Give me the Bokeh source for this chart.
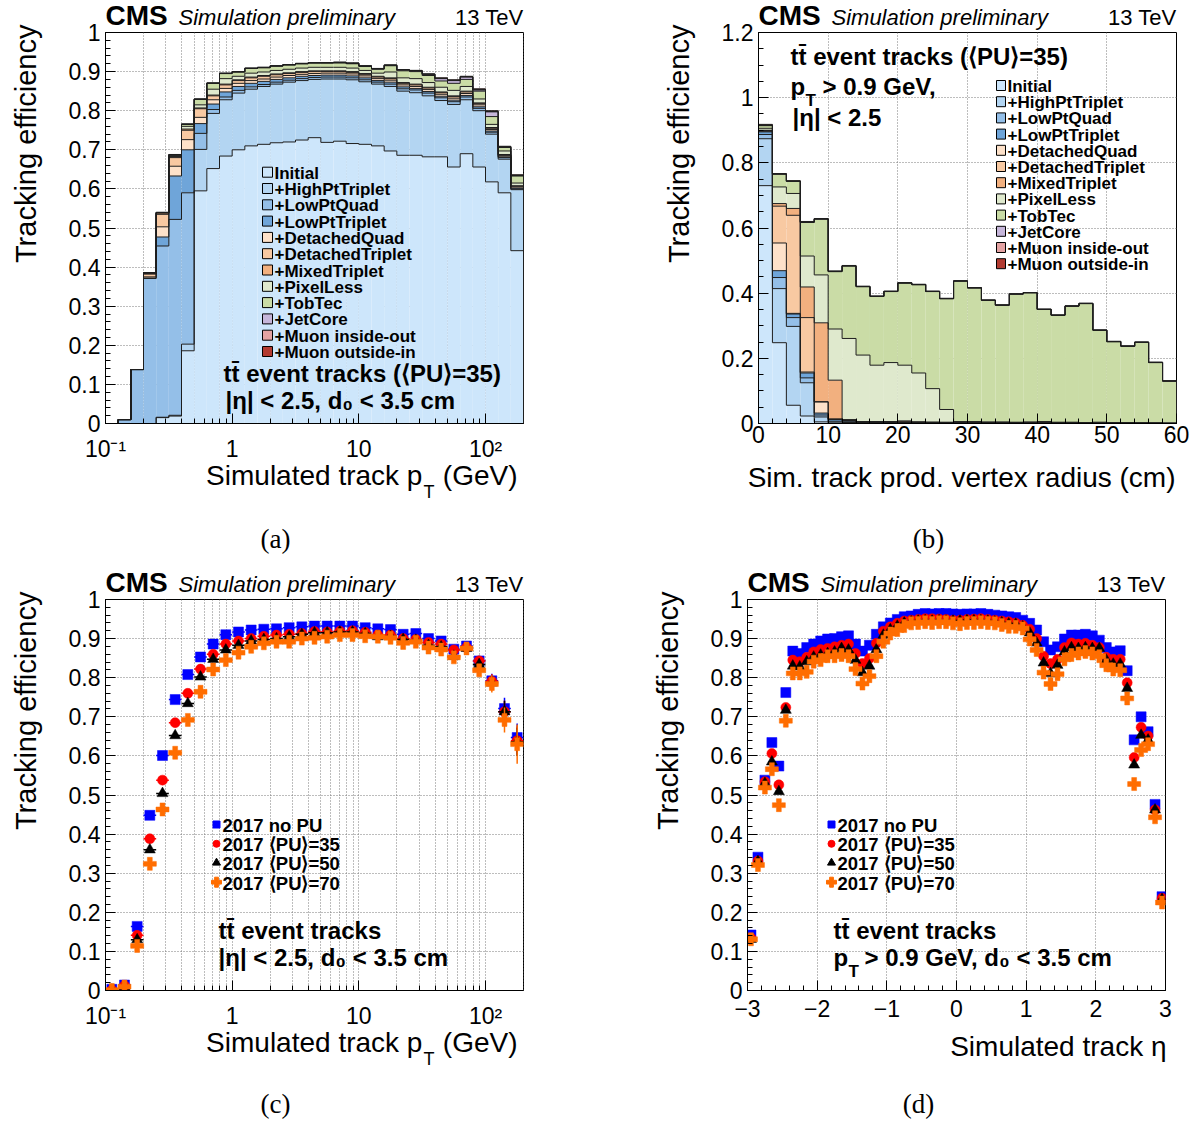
import math
import numpy as np
from bokeh.plotting import figure
from bokeh.models import Range1d, Label, FixedTicker, CustomJSTickFormatter
from bokeh.layouts import column, row
from bokeh.embed import file_html
from bokeh.resources import INLINE
from bokeh.core.properties import value

FONT = "Liberation Sans"
SERIF = "Liberation Serif"

# ------------------------------------------------------------------ data
iteration_labels = ["Initial", "+HighPtTriplet", "+LowPtQuad", "+LowPtTriplet",
                    "+DetachedQuad", "+DetachedTriplet", "+MixedTriplet", "+PixelLess",
                    "+TobTec", "+JetCore", "+Muon inside-out", "+Muon outside-in"]
iteration_colors = ["#cde6fb", "#b3d5f2", "#94bfe8", "#6fa5d9",
                    "#fde1c9", "#f8c9a2", "#f2b07f", "#dfe9cd",
                    "#cadca6", "#c6b6da", "#e4a3a3", "#b23b31"]

# (a) cumulative efficiency after each iteration, 33 log-spaced pT bins (0.1 - 200 GeV)
a_initial = [0.000, 0.000, 0.000, 0.000, 0.015, 0.019, 0.186, 0.595, 0.652, 0.684, 0.700, 0.710, 0.714, 0.718, 0.720, 0.725, 0.731, 0.719, 0.722, 0.716, 0.714, 0.710, 0.697, 0.686, 0.686, 0.682, 0.682, 0.656, 0.690, 0.656, 0.618, 0.590, 0.442]
a_highpt = [0.000, 0.000, 0.000, 0.000, 0.016, 0.021, 0.203, 0.701, 0.793, 0.828, 0.845, 0.855, 0.862, 0.868, 0.873, 0.877, 0.880, 0.881, 0.881, 0.879, 0.874, 0.868, 0.862, 0.850, 0.846, 0.838, 0.826, 0.816, 0.828, 0.800, 0.740, 0.676, 0.598]
a_lowptquad = [0.000, 0.010, 0.138, 0.371, 0.454, 0.522, 0.590, 0.742, 0.803, 0.835, 0.852, 0.861, 0.867, 0.873, 0.878, 0.882, 0.885, 0.886, 0.886, 0.884, 0.879, 0.873, 0.868, 0.856, 0.853, 0.845, 0.833, 0.823, 0.835, 0.806, 0.745, 0.680, 0.600]
a_lowpttriplet = [0.000, 0.010, 0.138, 0.372, 0.477, 0.633, 0.700, 0.767, 0.817, 0.848, 0.862, 0.870, 0.875, 0.880, 0.884, 0.888, 0.890, 0.891, 0.891, 0.889, 0.884, 0.877, 0.873, 0.861, 0.857, 0.849, 0.837, 0.827, 0.839, 0.810, 0.748, 0.682, 0.602]
a_detachedquad = [0.000, 0.010, 0.138, 0.375, 0.503, 0.658, 0.726, 0.783, 0.828, 0.857, 0.870, 0.877, 0.881, 0.886, 0.890, 0.893, 0.895, 0.896, 0.896, 0.894, 0.889, 0.882, 0.878, 0.866, 0.862, 0.854, 0.842, 0.832, 0.844, 0.815, 0.752, 0.685, 0.605]
a_detachedtriplet = [0.000, 0.010, 0.138, 0.382, 0.535, 0.680, 0.750, 0.805, 0.838, 0.866, 0.877, 0.884, 0.888, 0.892, 0.895, 0.898, 0.900, 0.900, 0.900, 0.898, 0.893, 0.886, 0.882, 0.870, 0.866, 0.858, 0.846, 0.836, 0.848, 0.818, 0.755, 0.687, 0.607]
a_mixedtriplet = [0.000, 0.010, 0.138, 0.385, 0.539, 0.683, 0.753, 0.807, 0.840, 0.868, 0.879, 0.886, 0.890, 0.894, 0.897, 0.900, 0.902, 0.902, 0.902, 0.900, 0.895, 0.888, 0.884, 0.872, 0.868, 0.860, 0.848, 0.838, 0.850, 0.820, 0.757, 0.688, 0.608]
a_pixelless = [0.000, 0.010, 0.138, 0.385, 0.539, 0.685, 0.760, 0.815, 0.855, 0.882, 0.888, 0.896, 0.899, 0.903, 0.906, 0.909, 0.911, 0.911, 0.911, 0.909, 0.903, 0.896, 0.899, 0.884, 0.882, 0.872, 0.860, 0.852, 0.862, 0.830, 0.765, 0.697, 0.615]
a_tobtec = [0.000, 0.010, 0.138, 0.385, 0.539, 0.687, 0.765, 0.829, 0.870, 0.895, 0.899, 0.908, 0.910, 0.914, 0.917, 0.920, 0.922, 0.922, 0.922, 0.920, 0.913, 0.906, 0.915, 0.902, 0.900, 0.890, 0.876, 0.870, 0.880, 0.850, 0.785, 0.706, 0.633]
a_jetcore = [0.000, 0.010, 0.138, 0.385, 0.539, 0.687, 0.765, 0.829, 0.870, 0.895, 0.899, 0.908, 0.910, 0.914, 0.917, 0.920, 0.922, 0.922, 0.923, 0.921, 0.914, 0.907, 0.916, 0.904, 0.902, 0.893, 0.882, 0.877, 0.886, 0.853, 0.797, 0.707, 0.634]
a_muon_io = [0.000, 0.010, 0.138, 0.386, 0.540, 0.688, 0.766, 0.830, 0.871, 0.896, 0.900, 0.909, 0.911, 0.915, 0.918, 0.921, 0.923, 0.923, 0.924, 0.922, 0.915, 0.908, 0.917, 0.905, 0.903, 0.894, 0.883, 0.878, 0.887, 0.854, 0.798, 0.708, 0.635]
a_muon_oi = [0.000, 0.010, 0.138, 0.386, 0.540, 0.688, 0.766, 0.830, 0.871, 0.896, 0.900, 0.909, 0.911, 0.915, 0.918, 0.921, 0.923, 0.923, 0.924, 0.922, 0.915, 0.908, 0.917, 0.905, 0.903, 0.894, 0.884, 0.879, 0.888, 0.856, 0.800, 0.709, 0.636]
a_layers = [a_initial, a_highpt, a_lowptquad, a_lowpttriplet, a_detachedquad, a_detachedtriplet,
            a_mixedtriplet, a_pixelless, a_tobtec, a_jetcore, a_muon_io, a_muon_oi]

# (b) cumulative efficiency vs production vertex radius, 30 bins of 2 cm (0 - 60 cm)
b_initial = [0.730, 0.248, 0.056, 0.023, 0.005, 0.000, 0.000, 0.000, 0.000, 0.000, 0.000, 0.000, 0.000, 0.000, 0.000, 0.000, 0.000, 0.000, 0.000, 0.000, 0.000, 0.000, 0.000, 0.000, 0.000, 0.000, 0.000, 0.000, 0.000, 0.000]
b_highpt = [0.874, 0.414, 0.298, 0.125, 0.020, 0.004, 0.003, 0.002, 0.002, 0.002, 0.002, 0.002, 0.001, 0.001, 0.001, 0.001, 0.001, 0.001, 0.001, 0.001, 0.001, 0.001, 0.001, 0.001, 0.001, 0.001, 0.000, 0.000, 0.000, 0.000]
b_lowptquad = [0.887, 0.448, 0.325, 0.140, 0.026, 0.007, 0.005, 0.003, 0.003, 0.003, 0.003, 0.003, 0.002, 0.002, 0.001, 0.001, 0.001, 0.001, 0.001, 0.001, 0.001, 0.001, 0.001, 0.001, 0.001, 0.001, 0.001, 0.001, 0.000, 0.000]
b_lowpttriplet = [0.895, 0.469, 0.336, 0.155, 0.032, 0.012, 0.008, 0.004, 0.004, 0.004, 0.004, 0.003, 0.003, 0.002, 0.002, 0.002, 0.002, 0.002, 0.002, 0.002, 0.002, 0.001, 0.001, 0.001, 0.001, 0.001, 0.001, 0.001, 0.001, 0.000]
b_detachedquad = [0.897, 0.554, 0.338, 0.158, 0.066, 0.013, 0.009, 0.004, 0.004, 0.004, 0.004, 0.004, 0.003, 0.003, 0.002, 0.002, 0.002, 0.002, 0.002, 0.002, 0.002, 0.001, 0.001, 0.001, 0.001, 0.001, 0.001, 0.001, 0.001, 0.000]
b_detachedtriplet = [0.899, 0.667, 0.639, 0.325, 0.067, 0.014, 0.010, 0.005, 0.005, 0.005, 0.005, 0.004, 0.004, 0.003, 0.002, 0.002, 0.002, 0.002, 0.002, 0.002, 0.002, 0.002, 0.001, 0.001, 0.001, 0.001, 0.001, 0.001, 0.001, 0.000]
b_mixedtriplet = [0.900, 0.675, 0.660, 0.419, 0.309, 0.133, 0.012, 0.006, 0.006, 0.006, 0.008, 0.005, 0.004, 0.004, 0.003, 0.003, 0.003, 0.002, 0.003, 0.002, 0.002, 0.002, 0.002, 0.001, 0.001, 0.001, 0.001, 0.001, 0.001, 0.001]
b_pixelless = [0.906, 0.726, 0.706, 0.514, 0.456, 0.290, 0.261, 0.210, 0.179, 0.187, 0.179, 0.155, 0.107, 0.043, 0.006, 0.006, 0.005, 0.005, 0.004, 0.005, 0.006, 0.004, 0.004, 0.003, 0.004, 0.003, 0.003, 0.002, 0.002, 0.002]
b_tobtec = [0.914, 0.765, 0.743, 0.617, 0.627, 0.466, 0.483, 0.420, 0.390, 0.405, 0.431, 0.426, 0.405, 0.383, 0.437, 0.416, 0.378, 0.363, 0.397, 0.401, 0.350, 0.332, 0.360, 0.368, 0.286, 0.251, 0.237, 0.249, 0.187, 0.130]
b_jetcore = [0.915, 0.766, 0.744, 0.618, 0.628, 0.467, 0.484, 0.420, 0.390, 0.405, 0.431, 0.426, 0.405, 0.383, 0.437, 0.416, 0.378, 0.363, 0.397, 0.401, 0.350, 0.332, 0.360, 0.368, 0.286, 0.251, 0.237, 0.249, 0.187, 0.130]
b_muon_io = [0.916, 0.766, 0.744, 0.618, 0.628, 0.467, 0.484, 0.421, 0.391, 0.406, 0.432, 0.427, 0.406, 0.384, 0.438, 0.417, 0.379, 0.364, 0.398, 0.402, 0.351, 0.333, 0.361, 0.369, 0.287, 0.252, 0.238, 0.250, 0.188, 0.131]
b_muon_oi = [0.918, 0.767, 0.745, 0.620, 0.629, 0.468, 0.485, 0.421, 0.391, 0.406, 0.432, 0.427, 0.406, 0.384, 0.438, 0.417, 0.379, 0.364, 0.398, 0.402, 0.351, 0.333, 0.361, 0.369, 0.287, 0.252, 0.238, 0.250, 0.188, 0.131]
b_layers = [b_initial, b_highpt, b_lowptquad, b_lowpttriplet, b_detachedquad, b_detachedtriplet,
            b_mixedtriplet, b_pixelless, b_tobtec, b_jetcore, b_muon_io, b_muon_oi]

# (c) efficiency vs pT for four pile-up scenarios (same 33 pT bins)
series_labels = ["2017 no PU", "2017 \u27e8PU\u27e9=35", "2017 \u27e8PU\u27e9=50", "2017 \u27e8PU\u27e9=70"]
c_nopu = [0.003, 0.014, 0.164, 0.448, 0.601, 0.744, 0.808, 0.853, 0.886, 0.910, 0.917, 0.922, 0.924, 0.925, 0.928, 0.930, 0.932, 0.932, 0.932, 0.932, 0.928, 0.925, 0.923, 0.911, 0.913, 0.900, 0.894, 0.873, 0.881, 0.843, 0.792, 0.721, 0.647]
c_pu35 = [0.001, 0.012, 0.141, 0.388, 0.538, 0.685, 0.760, 0.822, 0.860, 0.886, 0.894, 0.900, 0.906, 0.909, 0.911, 0.913, 0.918, 0.917, 0.919, 0.920, 0.916, 0.909, 0.909, 0.900, 0.898, 0.890, 0.886, 0.871, 0.877, 0.843, 0.791, 0.713, 0.639]
c_pu50 = [0.001, 0.010, 0.130, 0.360, 0.504, 0.652, 0.734, 0.802, 0.847, 0.871, 0.883, 0.894, 0.898, 0.900, 0.905, 0.911, 0.915, 0.915, 0.917, 0.917, 0.913, 0.905, 0.906, 0.898, 0.896, 0.883, 0.879, 0.855, 0.875, 0.834, 0.787, 0.713, 0.636]
c_pu70 = [0.001, 0.010, 0.114, 0.324, 0.463, 0.608, 0.692, 0.764, 0.821, 0.845, 0.864, 0.879, 0.888, 0.892, 0.892, 0.900, 0.902, 0.905, 0.909, 0.909, 0.906, 0.905, 0.902, 0.889, 0.892, 0.877, 0.872, 0.852, 0.875, 0.819, 0.784, 0.692, 0.630]
c_err_low = [0.002, 0.003, 0.005, 0.005, 0.004, 0.004, 0.003, 0.003, 0.002, 0.002, 0.002, 0.002, 0.002, 0.002, 0.002, 0.002, 0.002, 0.002, 0.002, 0.002, 0.003, 0.003, 0.003, 0.004, 0.004, 0.005, 0.006, 0.008, 0.010, 0.013, 0.018, 0.028, 0.036]
c_err_pu70 = [0.002, 0.003, 0.006, 0.006, 0.005, 0.004, 0.004, 0.003, 0.003, 0.003, 0.002, 0.002, 0.002, 0.002, 0.002, 0.002, 0.002, 0.002, 0.003, 0.003, 0.003, 0.004, 0.004, 0.005, 0.005, 0.006, 0.008, 0.010, 0.013, 0.016, 0.022, 0.032, 0.050]

# (d) efficiency vs eta, 60 bins of 0.1 (-3 .. 3)
d_nopu = [0.142, 0.341, 0.538, 0.634, 0.574, 0.762, 0.868, 0.862, 0.877, 0.886,
          0.894, 0.899, 0.900, 0.905, 0.907, 0.886, 0.868, 0.883, 0.911, 0.930,
          0.940, 0.949, 0.956, 0.958, 0.962, 0.964, 0.963, 0.964, 0.964, 0.963,
          0.962, 0.963, 0.963, 0.964, 0.962, 0.960, 0.958, 0.956, 0.954, 0.947,
          0.939, 0.922, 0.892, 0.871, 0.879, 0.899, 0.909, 0.909, 0.911, 0.907,
          0.896, 0.877, 0.866, 0.869, 0.818, 0.641, 0.700, 0.662, 0.476, 0.240]
d_pu35 = [0.134, 0.331, 0.534, 0.606, 0.526, 0.724, 0.845, 0.841, 0.852, 0.866,
          0.872, 0.875, 0.879, 0.883, 0.886, 0.862, 0.836, 0.849, 0.888, 0.919,
          0.930, 0.939, 0.945, 0.947, 0.949, 0.951, 0.951, 0.950, 0.949, 0.947,
          0.947, 0.949, 0.950, 0.951, 0.949, 0.947, 0.945, 0.943, 0.940, 0.934,
          0.924, 0.900, 0.855, 0.836, 0.847, 0.877, 0.889, 0.886, 0.888, 0.883,
          0.877, 0.852, 0.847, 0.847, 0.787, 0.596, 0.673, 0.651, 0.462, 0.236]
d_pu50 = [0.131, 0.330, 0.530, 0.585, 0.509, 0.717, 0.830, 0.828, 0.841, 0.853,
          0.858, 0.862, 0.866, 0.875, 0.871, 0.845, 0.813, 0.830, 0.872, 0.909,
          0.923, 0.932, 0.940, 0.943, 0.945, 0.946, 0.945, 0.946, 0.945, 0.945,
          0.945, 0.946, 0.946, 0.946, 0.945, 0.943, 0.941, 0.938, 0.937, 0.930,
          0.915, 0.889, 0.838, 0.811, 0.832, 0.866, 0.877, 0.875, 0.877, 0.875,
          0.875, 0.845, 0.835, 0.835, 0.773, 0.577, 0.653, 0.641, 0.462, 0.233]
d_pu70 = [0.131, 0.321, 0.519, 0.566, 0.474, 0.690, 0.811, 0.811, 0.815, 0.841,
          0.845, 0.855, 0.855, 0.858, 0.855, 0.822, 0.785, 0.804, 0.855, 0.892,
          0.913, 0.922, 0.932, 0.939, 0.940, 0.942, 0.940, 0.942, 0.942, 0.939,
          0.937, 0.940, 0.940, 0.942, 0.940, 0.939, 0.935, 0.930, 0.930, 0.926,
          0.898, 0.871, 0.813, 0.784, 0.809, 0.847, 0.858, 0.862, 0.866, 0.862,
          0.855, 0.832, 0.821, 0.819, 0.747, 0.528, 0.615, 0.630, 0.443, 0.225]

series_markers = ["square", "circle", "triangle", "plus"]
series_colors = ["#0000ff", "#ff0000", "#000000", "#ff6d00"]
series_sizes = [10, 10, 11, 13]

# binning
pt_edges = 10 ** np.linspace(-1.0, 2.3, 34)
pt_centers = np.sqrt(pt_edges[:-1] * pt_edges[1:])
r_edges = np.arange(0, 62, 2)
eta_edges = np.round(np.linspace(-3.0, 3.0, 61), 2)
eta_centers = (eta_edges[:-1] + eta_edges[1:]) / 2


# ------------------------------------------------------------------ helpers
class Frame:
    """maps page pixels to data coordinates (for text placement)"""
    def __init__(self, L, R, T, B, xr, yr, logx=False):
        self.L, self.R, self.T, self.B = L, R, T, B
        self.xr, self.yr, self.logx = xr, yr, logx

    def x(self, px):
        f = (px - self.L) / (self.R - self.L)
        if self.logx:
            a, b = math.log10(self.xr[0]), math.log10(self.xr[1])
            return 10 ** (a + f * (b - a))
        return self.xr[0] + f * (self.xr[1] - self.xr[0])

    def y(self, py):
        f = (self.B - py) / (self.B - self.T)
        return self.yr[0] + f * (self.yr[1] - self.yr[0])


MID = 0.35  # distance from baseline to middle of the text box, in em


def _pos(py, size, baseline):
    # texts given by their baseline are placed by their middle
    if baseline == "alphabetic":
        return py - MID * size, "middle"
    return py, baseline


def put(p, fr, px, py, text, size, style="normal", align="left", baseline="alphabetic",
        angle=0.0, font=FONT):
    """text inside the plot frame"""
    yy, bl = _pos(py, size, baseline)
    p.add_layout(Label(x=fr.x(px), y=fr.y(yy), text=text, text_font=font,
                       text_font_size=f"{size}px", text_font_style=style,
                       text_align=align, text_baseline=bl, angle=angle,
                       text_color="black"))


def put_out(p, fr, px, py, text, size, style="normal", align="left", baseline="alphabetic",
            angle=0.0, font=FONT):
    """text outside the plot frame (overlay-level text glyph, not clipped)"""
    yy, bl = _pos(py, size, baseline)
    p.text(x=[fr.x(px)], y=[fr.y(yy)], text=[text], text_font=value(font),
           text_font_size=value(f"{size}px"), text_font_style=value(style),
           text_align=value(align), text_baseline=value(bl), angle=angle,
           text_color="black", level="overlay")


num_fmt = CustomJSTickFormatter(code="""
if (Math.abs(tick) < 1e-9) return "0";
if (Math.abs(tick - Math.round(tick)) < 1e-9) return String(Math.round(tick));
return tick.toFixed(1);
""")
log_fmt = CustomJSTickFormatter(code="""
const k = Math.round(Math.log10(tick));
const m = {"-1": "10\u207b\u00b9", "0": "1", "1": "10", "2": "10\u00b2"};
return (String(k) in m) ? m[String(k)] : "";
""")
eta_fmt = CustomJSTickFormatter(code="""
const r = Math.round(tick);
return r < 0 ? "\u2212" + String(-r) : String(r);
""")


def make_fig(fr, w, h, bl, br, bt, bb, xtype, xticks, xminor, yticks, yminor, xfmt, xstand, xminor_grid):
    p = figure(width=w, height=h, x_range=Range1d(*fr.xr), y_range=Range1d(*fr.yr),
               x_axis_type=xtype, output_backend="svg", toolbar_location=None,
               min_border_left=bl, min_border_right=br, min_border_top=bt, min_border_bottom=bb)
    p.outline_line_color = "black"
    p.outline_line_width = 1
    p.background_fill_color = "white"
    p.border_fill_color = "white"
    p.xaxis.ticker = FixedTicker(ticks=xticks, minor_ticks=xminor)
    p.yaxis.ticker = FixedTicker(ticks=yticks, minor_ticks=yminor)
    p.xaxis.formatter = xfmt
    p.yaxis.formatter = num_fmt
    for ax in p.axis:
        ax.major_tick_in = 10
        ax.major_tick_out = 0
        ax.minor_tick_in = 5
        ax.minor_tick_out = 0
        ax.major_tick_line_color = "black"
        ax.minor_tick_line_color = "black"
        ax.axis_line_color = "black"
        ax.major_label_text_font = FONT
        ax.major_label_text_font_size = "23px"
        ax.major_label_text_color = "black"
    p.yaxis.major_label_standoff = 5
    p.xaxis.major_label_standoff = xstand
    for g in (p.xgrid, p.ygrid):
        g.grid_line_color = "#7a7a7a"
        g.grid_line_dash = "1 2"
        g.grid_line_width = 1
    if xminor_grid:
        p.xgrid.minor_grid_line_color = "#7a7a7a"
        p.xgrid.minor_grid_line_dash = "1 2"
    return p


def header(p, fr):
    put_out(p, fr, fr.L, fr.T - 7, "CMS", 28, "bold")
    put_out(p, fr, fr.L + 73, fr.T - 7, "Simulation preliminary", 22, "italic")
    put_out(p, fr, fr.R, fr.T - 7, "13 TeV", 22, align="right")
    put_out(p, fr, fr.L - 80, fr.T - 8, "Tracking efficiency", 29, align="right",
            baseline="middle", angle=math.pi / 2)


def draw_stack(p, edges, layers):
    left, right = edges[:-1], edges[1:]
    prev = np.zeros(len(left))
    for vals, col in zip(layers, iteration_colors):
        v = np.array(vals)
        p.quad(left=left, right=right, bottom=prev, top=v, fill_color=col, line_color=None)
        prev = v
    for vals in layers:
        xs = [edges[0]] + list(edges) + [edges[-1]]
        ys = [0.0] + list(vals) + [vals[-1], 0.0]
        p.step(x=xs, y=ys, mode="after", line_color="#1e1e1e", line_width=1)


def stack_legend(p, fr, x0, y0, dy, bw=10, bh=10):
    for i, (lab, col) in enumerate(zip(iteration_labels, iteration_colors)):
        yc = y0 + dy * i
        p.quad(left=[fr.x(x0)], right=[fr.x(x0 + bw)], top=[fr.y(yc - bh / 2)],
               bottom=[fr.y(yc + bh / 2)], fill_color=col, line_color="black", line_width=1)
        put(p, fr, x0 + bw + 2, yc + 1, lab, 17, "bold", baseline="middle")


def draw_points(p, centers, lo, hi, series, errs):
    for vals, err, mk, col, sz in zip(series, errs, series_markers, series_colors, series_sizes):
        v = np.array(vals)
        p.segment(x0=lo, y0=v, x1=hi, y1=v, line_color=col, line_width=1.5)
        if err is not None:
            e = np.array(err)
            p.segment(x0=centers, y0=v - e, x1=centers, y1=v + e, line_color=col, line_width=1.5)
        p.scatter(x=centers, y=v, marker=mk, size=sz, fill_color=col, line_color=col,
                  line_width=0.5)


def point_legend(p, fr, mx, tx, rows):
    for lab, mk, col, sz, yc in zip(series_labels, series_markers, series_colors, series_sizes, rows):
        p.scatter(x=[fr.x(mx)], y=[fr.y(yc)], marker=mk, size=sz - 3, fill_color=col, line_color=col)
        put(p, fr, tx, yc + 1, lab, 18.5, "bold", baseline="middle")


# ------------------------------------------------------------------ layout geometry
# row 1 canvas: y 0..567, row 2 canvas: y 567..1122; columns: x 0..600, 600..1200
ROW1_H, ROW2_H = 567, 555

# ------------------------------------------------------------------ panel (a)
y_ticks = [0, 0.1, 0.2, 0.3, 0.4, 0.5, 0.6, 0.7, 0.8, 0.9, 1.0]
y_minor = [round(0.02 * k, 2) for k in range(51)]
log_ticks = [0.1, 1, 10, 100]
log_minor = [m * d for d in (0.1, 1, 10, 100) for m in range(2, 10)]

fa = Frame(105, 523, 32, 423, (0.1, 10 ** 2.3), (0, 1), logx=True)
pa = make_fig(fa, 600, ROW1_H, 105, 77, 32, ROW1_H - 423, "log", log_ticks, log_minor,
              y_ticks, y_minor, log_fmt, 12, True)
draw_stack(pa, pt_edges, a_layers)
stack_legend(pa, fa, 262, 171.7, 16.3)
header(pa, fa)
put(pa, fa, 223, 381, "tt\u0304 event tracks (\u27e8PU\u27e9=35)", 24, "bold")
put(pa, fa, 225, 408, "|\u03b7| < 2.5, d\u2080 < 3.5 cm", 24, "bold")
put_out(pa, fa, 205.6, 485, "Simulated track p", 28)
put_out(pa, fa, 422.9, 498, "T", 18)
put_out(pa, fa, 517, 485, "(GeV)", 28, align="right")
put_out(pa, fa, 275, 538, "(a)", 27, align="center", baseline="middle", font=SERIF)

# ------------------------------------------------------------------ panel (b)
fb = Frame(758, 1176, 32, 423, (0, 60), (0, 1.2))
pb = make_fig(fb, 600, ROW1_H, 158, 24, 32, ROW1_H - 423, "linear",
              [0, 10, 20, 30, 40, 50, 60], list(range(0, 61, 2)),
              [0, 0.2, 0.4, 0.6, 0.8, 1.0, 1.2], [round(0.05 * k, 2) for k in range(25)],
              num_fmt, 2, False)
draw_stack(pb, r_edges, b_layers)
stack_legend(pb, fb, 996, 85, 16.2, bw=9, bh=10)
header(pb, fb)
put(pb, fb, 790, 64, "tt\u0304 event tracks (\u27e8PU\u27e9=35)", 24, "bold")
put(pb, fb, 790, 94, "p", 24, "bold")
put(pb, fb, 805, 106, "T", 17, "bold")
put(pb, fb, 822, 94, "> 0.9 GeV,", 24, "bold")
put(pb, fb, 792, 125, "|\u03b7| < 2.5", 24, "bold")
put_out(pb, fb, 1175, 487, "Sim. track prod. vertex radius (cm)", 28, align="right")
put_out(pb, fb, 928, 538, "(b)", 27, align="center", baseline="middle", font=SERIF)

# ------------------------------------------------------------------ panel (c)
fc = Frame(105, 523, 599, 990, (0.1, 10 ** 2.3), (0, 1), logx=True)
pc = make_fig(fc, 600, ROW2_H, 105, 77, 599 - ROW1_H, ROW1_H + ROW2_H - 990, "log",
              log_ticks, log_minor, y_ticks, y_minor, log_fmt, 12, True)
draw_points(pc, pt_centers, pt_edges[:-1], pt_edges[1:],
            [c_nopu, c_pu35, c_pu50, c_pu70], [c_err_low, c_err_low, c_err_low, c_err_pu70])
point_legend(pc, fc, 216, 222, [824, 843.3, 862.3, 881.7])
header(pc, fc)
put(pc, fc, 218, 938, "tt\u0304 event tracks", 24, "bold")
put(pc, fc, 218, 965, "|\u03b7| < 2.5, d\u2080 < 3.5 cm", 24, "bold")
put_out(pc, fc, 205.6, 1052, "Simulated track p", 28)
put_out(pc, fc, 422.9, 1065, "T", 18)
put_out(pc, fc, 517, 1052, "(GeV)", 28, align="right")
put_out(pc, fc, 275, 1103, "(c)", 27, align="center", baseline="middle", font=SERIF)

# ------------------------------------------------------------------ panel (d)
fd = Frame(747, 1165, 599, 990, (-3, 3), (0, 1))
pd = make_fig(fd, 600, ROW2_H, 147, 35, 599 - ROW1_H, ROW1_H + ROW2_H - 990, "linear",
              [-3, -2, -1, 0, 1, 2, 3], [round(-3 + 0.2 * k, 1) for k in range(31)],
              y_ticks, y_minor, eta_fmt, 9, False)
draw_points(pd, eta_centers, eta_edges[:-1], eta_edges[1:],
            [d_nopu, d_pu35, d_pu50, d_pu70], [None, None, None, None])
point_legend(pd, fd, 831, 837, [824, 843.3, 862.3, 881.7])
header(pd, fd)
put(pd, fd, 833, 938, "tt\u0304 event tracks", 24, "bold")
put(pd, fd, 833, 965, "p", 24, "bold")
put(pd, fd, 848, 977, "T", 17, "bold")
put(pd, fd, 864, 965, "> 0.9 GeV, d\u2080 < 3.5 cm", 24, "bold")
put_out(pd, fd, 1166, 1056, "Simulated track \u03b7", 28, align="right")
put_out(pd, fd, 918, 1103, "(d)", 27, align="center", baseline="middle", font=SERIF)

layout = column(row(pa, pb), row(pc, pd))
open("out.html", "w").write(file_html(layout, INLINE))
